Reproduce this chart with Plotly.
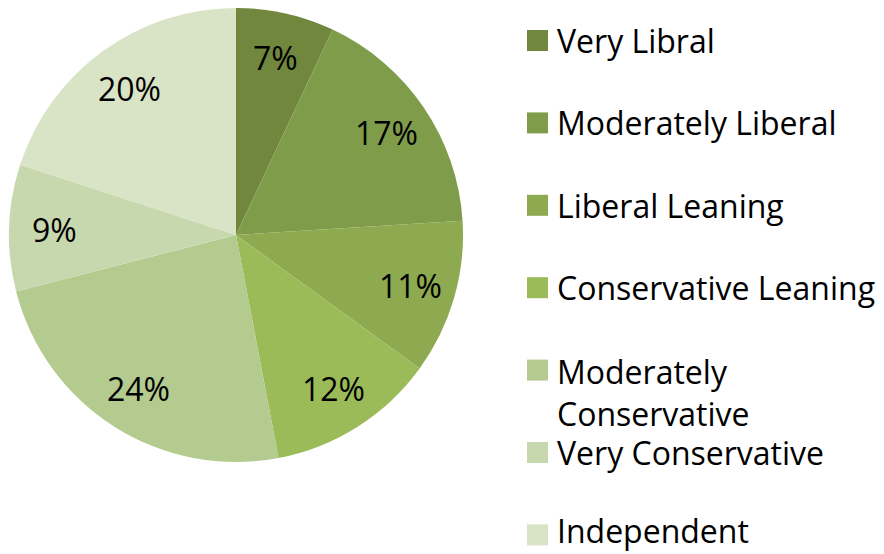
import numpy as np
import plotly.graph_objects as go

# Survey breakdown of political orientation
categories = [
    "Very Libral",
    "Moderately Liberal",
    "Liberal Leaning",
    "Conservative Leaning",
    "Moderately Conservative",
    "Very Conservative",
    "Independent",
]
shares = [7, 17, 11, 12, 24, 9, 20]
colors = ["#71873E", "#7F9C4A", "#8DAA51", "#9BBB59", "#B3CB8E", "#C8D8AE", "#D9E3C6"]
legend_text = [
    "Very Libral",
    "Moderately Liberal",
    "Liberal Leaning",
    "Conservative Leaning",
    "Moderately<br>Conservative",
    "Very Conservative",
    "Independent",
]

W, H = 884, 554
FONT = "Open Sans"
FSIZE = 32

# pie geometry in pixels
cx, cy, R = 236, 235, 227

fig = go.Figure(
    go.Pie(
        labels=categories,
        values=shares,
        sort=False,
        direction="clockwise",
        rotation=0,
        marker=dict(colors=colors, line=dict(width=0)),
        textinfo="none",
        hoverinfo="label+percent",
        showlegend=False,
        domain=dict(x=[(cx - R) / W, (cx + R) / W], y=[(H - cy - R) / H, (H - cy + R) / H]),
    )
)

# percentage labels placed at the middle angle of each slice
vals = np.array(shares, dtype=float)
total = vals.sum()
mids = (np.cumsum(vals) - vals / 2) / total * 2 * np.pi
label_r = 0.8 * R
annotations = []
for v, a in zip(shares, mids):
    px = cx + label_r * np.sin(a)
    py = cy - label_r * np.cos(a)
    annotations.append(dict(
        x=px / W, y=1 - py / H, xref="paper", yref="paper",
        text=f"{round(v / total * 100)}%", showarrow=False,
        xanchor="center", yanchor="middle",
        font=dict(family=FONT, size=FSIZE, color="#000000"),
    ))

# legend drawn as colored squares with text
shapes = []
row0, row_gap = 40.5, 82.4
sq = 21
n = len(legend_text)
for i, (name, col) in enumerate(zip(legend_text, colors)):
    yc = row0 + i * row_gap
    shapes.append(dict(
        type="rect", xref="paper", yref="paper",
        x0=527 / W, x1=(527 + sq) / W,
        y0=1 - (yc + sq / 2) / H, y1=1 - (yc - sq / 2) / H,
        fillcolor=col, line=dict(width=0),
    ))
    if "<br>" in name:
        ann = dict(y=1 - yc / H, yanchor="top", yshift=FSIZE * 0.7)
    elif i == n - 1:
        # last entry sits on the bottom edge of the canvas
        ann = dict(y=0, yanchor="bottom")
    else:
        ann = dict(y=1 - yc / H, yanchor="middle")
    annotations.append(dict(
        x=555 / W, xref="paper", yref="paper",
        text=name, showarrow=False, align="left", xanchor="left",
        font=dict(family=FONT, size=FSIZE, color="#000000"),
        **ann,
    ))

fig.update_layout(
    width=W, height=H,
    margin=dict(l=0, r=0, t=0, b=0),
    paper_bgcolor="white", plot_bgcolor="white",
    annotations=annotations, shapes=shapes,
)

fig.write_html("out.html")
